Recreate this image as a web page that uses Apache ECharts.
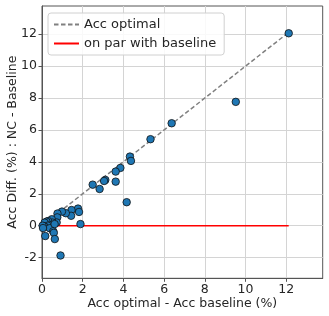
<!DOCTYPE html>
<html><head><meta charset="utf-8">
<script src="https://cdn.jsdelivr.net/npm/echarts@6/dist/echarts.min.js"></script>
<style>html,body{margin:0;padding:0;background:#fff}#c{width:329px;height:316px}</style>
</head><body><div id="c"></div>
<script>
var xVals = [12.12, 9.52, 6.37, 5.33, 4.32, 4.37, 3.85, 3.62, 3.62, 3.11, 3.05, 2.49, 2.83, 4.16,
  1.77, 1.82, 1.45, 1.43, 1.17, 0.98, 0.76, 0.75, 0.72, 1.89, 0.48, 0.52, 0.30, 0.22, 0.13,
  0.45, 0.29, 0.13, 0.38, 0.55, 0.58, 0.16, 0.63, 0.91, 0.03, 0.62, 0.05];
var yVals = [12.06, 7.76, 6.42, 5.42, 4.33, 4.06, 3.62, 3.39, 2.76, 2.87, 2.80, 2.57, 2.30, 1.47,
  1.07, 0.86, 0.98, 0.62, 0.78, 0.88, 0.76, 0.52, 0.20, 0.10, 0.40, 0.19, 0.29, 0.25, 0.19,
  0.04, 0.00, -0.06, -0.16, -0.35, -0.45, -0.65, -0.84, -1.87, 0.00, 0.10, -0.15];
var xTicks = [0, 2, 4, 6, 8, 10, 12];
var yTicks = [-2, 0, 2, 4, 6, 8, 10, 12];
var lineEnd = 12.12;
var seriesNames = ['Acc optimal', 'on par with baseline'];
var xLabel = 'Acc optimal - Acc baseline (%)';
var yLabel = 'Acc Diff. (%) : NC - Baseline';

var pts = xVals.map(function (x, i) { return [x, yVals[i]]; });
var font = 'DejaVu Sans';
var chart = echarts.init(document.getElementById('c'), null, {renderer: 'canvas'});
function axisCommon(ticks) {
  return {
    type: 'value',
    nameMoveOverlap: false,
    axisLine: {show: true, onZero: false, lineStyle: {color: '#555', width: 1}},
    axisTick: {show: true, inside: false, length: 3.5, customValues: ticks, lineStyle: {color: '#555'}},
    axisLabel: {customValues: ticks, color: '#262626', fontFamily: font, fontSize: 12.5, margin: 5},
    splitLine: {show: true, lineStyle: {color: '#d4d4d4', width: 1}},
    nameTextStyle: {color: '#262626', fontFamily: font, fontSize: 12.5}
  };
}
var xa = axisCommon(xTicks);
xa.min = 0; xa.max = 13.79; xa.name = xLabel; xa.nameLocation = 'middle'; xa.nameGap = 19;
var ya = axisCommon(yTicks);
ya.min = -3.3; ya.max = 13.77; ya.name = yLabel; ya.nameLocation = 'middle'; ya.nameGap = 23;
chart.setOption({
  animation: false,
  grid: {left: 42, top: 6, right: 6.3, bottom: 37.7, show: true, borderColor: '#555', borderWidth: 1,
         containLabel: false, outerBoundsMode: 'none'},
  legend: {
    left: 48, top: 13, orient: 'vertical', itemWidth: 25, itemHeight: 10, itemGap: 6,
    padding: [5, 8, 5, 5], backgroundColor: 'rgba(255,255,255,0.85)', borderColor: '#d0d0d0', borderWidth: 1, borderRadius: 3,
    textStyle: {fontFamily: font, fontSize: 13, color: '#262626'},
    itemStyle: {opacity: 0},
    data: seriesNames
  },
  xAxis: xa,
  yAxis: ya,
  series: [
    {name: seriesNames[0], type: 'line', data: [[0, 0], [lineEnd, lineEnd]], symbol: 'none', z: 2,
     lineStyle: {color: '#808080', width: 1.5, type: [4.5, 2.5]}, itemStyle: {color: '#808080'}},
    {name: seriesNames[1], type: 'line', data: [[0, 0], [lineEnd, 0]], symbol: 'none', z: 2,
     lineStyle: {color: '#ff0000', width: 1.5}, itemStyle: {color: '#ff0000'}},
    {name: 'pts', type: 'scatter', data: pts, symbolSize: 7.5, z: 3,
     itemStyle: {color: '#1f77b4', borderColor: '#111', borderWidth: 0.8, opacity: 1}}
  ]
});
</script></body></html>
